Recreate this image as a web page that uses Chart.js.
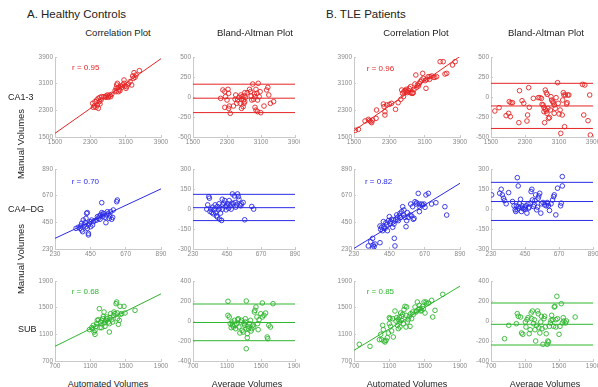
<!DOCTYPE html>
<html>
<head>
<meta charset="utf-8">
<script src="https://cdn.jsdelivr.net/npm/chart.js@4.4.1/dist/chart.umd.min.js"></script>
<style>
  body { margin: 0; background: #fff; }
  #fig { position: relative; width: 598px; height: 387px; overflow: hidden; background: #fff;
         font-family: "Liberation Sans", Arial, sans-serif; }
  .lbl { position: absolute; white-space: nowrap; color: #222; line-height: 1; }
  canvas { position: absolute; }
</style>
</head>
<body>
<div id="fig"></div>
<script>
// tick labels
const ca13Ticks = [1500, 2300, 3100, 3900];
const ca13DiffTicks = [-500, -250, 0, 250, 500];
const ca4Ticks = [230, 450, 670, 890];
const ca4DiffTicks = [-300, -150, 0, 150, 300];
const subTicks = [700, 1100, 1500, 1900];
const subDiffTicks = [-400, -200, 0, 200, 400];

const rValues = ["r = 0.95", "r = 0.96", "r = 0.70", "r = 0.82", "r = 0.68", "r = 0.85"];

// CA1-3, healthy controls: [automated, manual]
const hcCa13Corr = [[2353,2510],[2391,2430],[2429,2390],[2459,2460],[2406,2560],[2444,2610],[2481,2660],[2519,2690],
  [2504,2560],[2542,2610],[2368,2390],[2481,2360],[2519,2490],[2557,2710],[2610,2710],[2655,2730],[2685,2760],
  [2716,2730],[2746,2760],[2784,2780],[2655,2690],[2708,2690],[2761,2710],[2859,2890],[2882,2960],[2897,3060],
  [2912,3110],[2935,2990],[2957,2930],[2972,2890],[2987,3030],[3010,2990],[3033,3060],[3063,3110],[3086,3030],
  [3108,2960],[2882,2860],[2935,2860],[3123,3010],[3161,3090],[3199,3160],[3237,3060],[3063,3210],[3274,3260],
  [3312,3290],[3335,3360],[3259,3330],[3289,3430],[3410,3490]];
const hcCa13Fit = [[1500,1610],[3900,3850]];
// [average, difference]
const hcCa13Ba = [[2149,-17],[2202,88],[2247,67],[2263,4],[2300,-38],[2323,96],[2338,46],[2353,-113],[2247,-129],
  [2338,-142],[2376,-204],[2451,-113],[2489,-29],[2504,25],[2527,-79],[2549,-38],[2580,-4],[2610,-79],[2640,-29],
  [2625,25],[2655,4],[2685,-38],[2700,13],[2716,54],[2700,-79],[2678,-121],[2640,-142],[2716,-58],[2731,-4],
  [2776,54],[2829,96],[2852,67],[2867,13],[2882,-38],[2904,162],[2927,-29],[2942,38],[2957,4],[2980,96],[3002,46],
  [2957,-129],[2980,-163],[3018,-38],[3033,171],[3055,4],[3078,67],[3093,-196],[3018,-183],[3169,-113],[3229,88],
  [3259,121],[3282,25],[3320,-79],[3395,-58]];
const hcCa13Limits = [160, -15, -195];

// CA1-3, TLE patients
const tleCa13Corr = [[1530,1700],[1600,1730],[1750,1980],[1825,2030],[1850,1990],[1880,1960],[1900,1930],[1920,2010],
  [2000,2060],[2010,2310],[2165,2490],[2180,2410],[2200,2260],[2200,2160],[2240,2460],[2300,2480],[2350,2510],
  [2440,2330],[2500,2530],[2560,2630],[2580,2910],[2600,2810],[2620,2710],[2630,2860],[2655,2890],[2680,2930],
  [2690,2860],[2710,2830],[2730,2890],[2750,2960],[2770,2830],[2780,3010],[2810,2810],[2830,2810],[2840,2830],
  [2860,2930],[2880,3090],[2900,3360],[2920,2990],[2935,3060],[2960,3030],[2980,3110],[3000,3160],[3030,3210],
  [3055,3410],[3070,3260],[3110,3190],[3130,2960],[3145,3230],[3180,3310],[3210,3230],[3220,3310],[3260,3330],
  [3300,3290],[3330,3290],[3370,3310],[3450,3760],[3520,3760],[3560,3390],[3600,3410],[3730,3660],[3790,3760]];
const tleCa13Fit = [[1500,1690],[3900,3920]];
const tleCa13Ba = [[1590,-175],[1690,-133],[1855,-233],[1915,-204],[1930,-58],[1970,-71],[2005,-71],[1955,-246],
  [2155,-321],[2170,79],[2230,-46],[2270,-79],[2345,-300],[2385,117],[2400,-129],[2360,-225],[2495,-17],[2610,-8],
  [2650,-8],[2685,-17],[2700,-92],[2725,-100],[2745,-129],[2745,-183],[2760,-321],[2775,87],[2800,54],[2820,33],
  [2775,-154],[2800,-175],[2815,-204],[2835,-142],[2850,-267],[2875,-258],[2895,-162],[2910,4],[2925,-38],
  [2950,-58],[2965,-71],[2985,-100],[2985,-204],[3010,-142],[3030,-8],[3065,179],[3080,-79],[3100,-212],
  [3125,-162],[3140,-454],[3175,-225],[3185,-38],[3200,54],[3215,25],[3230,-371],[3250,25],[3275,-88],[3290,-71],
  [3305,25],[3330,25],[3650,158],[3705,150],[3780,-296],[3820,25],[3680,-225],[3835,-475]];
const tleCa13Limits = [171, -112, -393];

// CA4-DG, healthy controls
const hcCa4Corr = [[361,400],[375,409],[386,400],[390,420],[396,387],[402,373],[396,442],[406,469],[411,428],
  [417,447],[423,483],[427,524],[431,530],[423,414],[431,400],[438,428],[438,359],[438,346],[444,442],[448,456],
  [452,414],[458,469],[464,428],[469,456],[479,464],[489,469],[494,497],[500,483],[506,502],[510,475],[514,511],
  [521,530],[527,497],[521,612],[527,511],[531,524],[541,491],[547,447],[552,511],[562,524],[568,483],[572,502],
  [577,538],[583,475],[589,491],[593,552],[614,620],[618,634],[556,538]];
const hcCa4Fit = [[230,318],[890,726]];
const hcCa4Ba = [[319,-1],[325,31],[332,93],[336,81],[340,-19],[346,-1],[352,-26],[357,14],[361,-36],[367,-6],
  [373,31],[377,-26],[381,-51],[388,19],[388,-61],[394,-6],[398,39],[402,6],[402,-76],[408,-31],[415,-86],[419,-1],
  [419,73],[423,31],[429,44],[435,63],[440,19],[444,-6],[450,24],[456,39],[460,6],[464,63],[471,24],[477,-1],
  [481,44],[485,113],[491,39],[498,98],[502,49],[506,14],[512,31],[518,113],[523,93],[527,73],[533,31],[539,24],
  [543,39],[554,49],[564,-81],[610,19],[622,-1]];
const hcCa4Limits = [110, 10, -87];

// CA4-DG, TLE patients
const tleCa4Corr = [[319,255],[334,290],[346,318],[350,263],[355,249],[346,236],[361,271],[392,282],[392,420],
  [396,392],[402,409],[408,381],[413,456],[417,414],[423,400],[429,447],[433,428],[438,381],[444,464],[450,497],
  [454,442],[458,456],[464,475],[471,409],[475,469],[479,436],[481,318],[485,255],[491,475],[496,511],[500,491],
  [506,464],[512,502],[516,524],[521,491],[527,538],[533,579],[537,511],[541,552],[547,491],[554,414],[558,464],
  [562,530],[568,491],[579,511],[583,601],[589,502],[595,579],[599,475],[604,483],[610,620],[616,601],[620,612],
  [630,689],[637,601],[641,574],[651,601],[657,593],[666,601],[672,574],[678,676],[693,689],[713,601],[740,612],
  [796,579],[807,510],[637,538]];
const tleCa4Fit = [[230,235],[890,772]];
const tleCa4Ba = [[234,106],[286,118],[296,148],[303,106],[311,81],[317,63],[328,39],[344,123],[369,56],[379,24],
  [386,-6],[390,-19],[394,24],[400,-6],[406,19],[411,6],[415,39],[421,73],[427,-19],[431,24],[435,6],[442,-1],
  [448,14],[452,-1],[456,24],[462,-31],[469,39],[473,6],[477,14],[483,44],[489,131],[494,148],[498,68],[504,19],
  [510,31],[514,63],[518,106],[525,-6],[531,14],[535,81],[539,98],[545,118],[552,-31],[556,39],[566,49],[577,31],
  [587,24],[593,49],[597,39],[601,24],[608,-11],[618,39],[628,68],[635,93],[639,106],[649,-44],[660,156],[680,24],
  [684,44],[691,173],[691,243],[400,235],[406,173]];
const tleCa4Limits = [200, 56, -86];

// SUB, healthy controls
const hcSubCorr = [[1089,1170],[1115,1200],[1126,1185],[1134,1235],[1142,1135],[1153,1100],[1153,1160],[1164,1220],
  [1172,1260],[1179,1310],[1191,1320],[1202,1485],[1209,1200],[1217,1285],[1228,1310],[1228,1200],[1240,1335],
  [1247,1370],[1255,1435],[1255,1270],[1266,1285],[1266,1220],[1277,1310],[1285,1360],[1293,1335],[1304,1285],
  [1315,1260],[1315,1135],[1323,1350],[1330,1410],[1342,1320],[1353,1285],[1360,1385],[1368,1435],[1379,1410],
  [1391,1560],[1398,1585],[1406,1335],[1406,1420],[1417,1250],[1428,1310],[1436,1520],[1443,1400],[1455,1410],
  [1481,1520],[1493,1420],[1606,1460]];
const hcSubFit = [[700,920],[1900,1707]];
const hcSubBa = [[1111,57],[1126,40],[1138,-27],[1149,-67],[1157,-10],[1164,-43],[1176,-60],[1187,7],[1194,-43],
  [1202,-77],[1213,-27],[1225,13],[1232,23],[1240,-60],[1251,-120],[1262,-10],[1270,7],[1277,-93],[1289,-110],
  [1300,-27],[1308,-43],[1315,-10],[1326,-77],[1315,23],[1326,200],[1338,-127],[1345,-53],[1353,-77],[1364,-27],
  [1375,7],[1383,-100],[1391,-77],[1402,-43],[1413,-60],[1421,90],[1428,107],[1440,140],[1451,40],[1459,-27],
  [1466,-87],[1477,13],[1496,73],[1515,40],[1534,57],[1553,80],[1572,-160],[1579,-177],[1591,-43],[1610,-60],
  [1515,180],[1326,-277],[1338,-167],[1111,197],[1640,173]];
const hcSubLimits = [170, -15, -197];

// SUB, TLE patients
const tleSubCorr = [[760,950],[881,920],[987,1020],[1002,1100],[1013,1020],[1025,1235],[1032,1170],[1040,1000],
  [1051,985],[1062,1010],[1077,1050],[1089,1120],[1100,1350],[1108,1335],[1115,1220],[1126,1150],[1138,1335],
  [1145,1060],[1164,1450],[1176,1300],[1183,1350],[1191,1235],[1202,1320],[1202,1185],[1213,1360],[1221,1285],
  [1221,1210],[1228,1420],[1240,1310],[1240,1370],[1251,1400],[1259,1260],[1266,1470],[1277,1520],[1289,1385],
  [1289,1210],[1296,1510],[1304,1285],[1315,1320],[1326,1370],[1334,1220],[1342,1410],[1353,1335],[1364,1435],
  [1372,1400],[1391,1510],[1402,1435],[1409,1450],[1417,1585],[1428,1470],[1440,1535],[1447,1485],[1455,1450],
  [1466,1460],[1477,1520],[1485,1485],[1493,1585],[1504,1420],[1515,1585],[1523,1560],[1542,1570],[1579,1610],
  [1591,1360],[1617,1460],[1704,1700],[1100,1260]];
const tleSubFit = [[700,860],[1900,1824]];
const tleSubBa = [[859,-177],[908,-43],[998,-27],[1009,73],[1021,47],[1047,40],[1059,-120],[1074,-133],[1104,-10],
  [1111,-60],[1123,13],[1134,33],[1149,-127],[1160,-87],[1172,80],[1179,23],[1187,100],[1198,-27],[1209,13],
  [1217,-87],[1225,-200],[1236,-43],[1247,100],[1255,73],[1262,-67],[1274,-120],[1285,-10],[1293,47],[1300,-77],
  [1311,-233],[1323,23],[1330,47],[1338,-60],[1349,-127],[1360,-233],[1368,-200],[1376,-210],[1387,-53],[1398,-20],
  [1406,7],[1413,57],[1425,13],[1436,-53],[1443,140],[1451,147],[1462,13],[1462,-60],[1474,247],[1481,23],
  [1500,-133],[1511,-53],[1526,173],[1538,-20],[1549,33],[1557,0],[1575,-20],[1587,0],[1689,40]];
const tleSubLimits = [180, -33, -240];

const RED = "#e52424";
const BLUE = "#2a2ae6";
const GREEN = "#2eb62e";
const FONT = "'Liberation Sans', Arial, sans-serif";

// plot-area edges in the figure
const colLeft = [55, 193, 354, 491];
const colRight = [161, 299, 460, 597];
const rowTop = [57, 169, 281];
const rowBottom = [137, 249, 361];
const clipRight = [169, 300, 468, 598];

const fig = document.getElementById("fig");

function addText(text, x, y, size, opts) {
  opts = opts || {};
  const d = document.createElement("div");
  d.className = "lbl";
  d.textContent = text;
  d.style.fontSize = size + "px";
  d.style.left = x + "px";
  d.style.top = y + "px";
  let tf = opts.left ? "translate(0,-50%)" : "translate(-50%,-50%)";
  if (opts.rotate) tf += " rotate(-90deg)";
  d.style.transform = tf;
  fig.appendChild(d);
}

const rLabelPlugin = {
  id: "rLabel",
  afterDatasetsDraw(chart, args, opts) {
    if (!opts.text) return;
    const ctx = chart.ctx;
    ctx.save();
    ctx.font = "8px " + FONT;
    ctx.fillStyle = opts.color;
    ctx.textAlign = "left";
    ctx.textBaseline = "middle";
    ctx.fillText(opts.text, chart.scales.x.getPixelForValue(opts.at[0]), chart.scales.y.getPixelForValue(opts.at[1]));
    ctx.restore();
  }
};

function axis(ticks, horizontal) {
  return {
    type: "linear",
    min: ticks[0],
    max: ticks[ticks.length - 1],
    afterBuildTicks: function (s) { s.ticks = ticks.map(function (v) { return { value: v }; }); },
    afterFit: function (s) {
      if (horizontal) { s.height = 10; s.paddingLeft = 0; s.paddingRight = 0; }
      else { s.width = 32; s.paddingTop = 0; s.paddingBottom = 0; }
    },
    // short tick marks pointing into the plot, like the original
    grid: { display: true, drawOnChartArea: false, drawTicks: true, tickLength: -2, color: "#c9c9c9", lineWidth: 1 },
    border: { color: "#c9c9c9", width: 1 },
    ticks: {
      font: { size: 6.5, family: FONT },
      color: "#8a8a8a",
      padding: horizontal ? 3 : 4,
      maxRotation: 0,
      autoSkip: false,
      callback: function (v) { return String(v); }
    }
  };
}

function makePanel(col, row, points, fitLine, limits, xTicks, yTicks, color, rLabel) {
  const L = colLeft[col], R = colRight[col], T = rowTop[row], B = rowBottom[row];
  const padR = clipRight[col] - R;
  const c = document.createElement("canvas");
  const w = (R - L) + 32 + padR, h = (B - T) + 16;
  c.width = w; c.height = h;
  c.style.left = (L - 32) + "px";
  c.style.top = (T - 6) + "px";
  c.style.width = w + "px"; c.style.height = h + "px";
  fig.appendChild(c);

  const datasets = [];
  if (fitLine) {
    datasets.push({ type: "line", data: fitLine.map(function (p) { return { x: p[0], y: p[1] }; }),
      borderColor: color, borderWidth: 1, pointRadius: 0, fill: false });
  }
  if (limits) {
    limits.forEach(function (v) {
      datasets.push({ type: "line", data: [{ x: xTicks[0], y: v }, { x: xTicks[xTicks.length - 1], y: v }],
        borderColor: color, borderWidth: 1, pointRadius: 0, fill: false });
    });
  }
  datasets.push({
    type: "scatter",
    data: points.map(function (p) { return { x: p[0], y: p[1] }; }),
    pointRadius: 2.3,
    pointBorderWidth: 0.9,
    pointBorderColor: color,
    pointBackgroundColor: "rgba(0,0,0,0)"
  });

  new Chart(c, {
    data: { datasets: datasets },
    options: {
      responsive: false,
      animation: false,
      devicePixelRatio: 1,
      layout: { padding: { left: 0, top: 6, right: padR, bottom: 0 } },
      plugins: {
        legend: { display: false },
        tooltip: { enabled: false },
        rLabel: rLabel ? { text: rLabel.text, at: rLabel.at, color: color } : {}
      },
      scales: { x: axis(xTicks, true), y: axis(yTicks, false) }
    },
    plugins: [rLabelPlugin]
  });
}

// row 1: CA1-3
makePanel(0, 0, hcCa13Corr, hcCa13Fit, null, ca13Ticks, ca13Ticks, RED, { text: rValues[0], at: [1885, 3570] });
makePanel(1, 0, hcCa13Ba, null, hcCa13Limits, ca13Ticks, ca13DiffTicks, RED);
makePanel(2, 0, tleCa13Corr, tleCa13Fit, null, ca13Ticks, ca13Ticks, RED, { text: rValues[1], at: [1790, 3560] });
makePanel(3, 0, tleCa13Ba, null, tleCa13Limits, ca13Ticks, ca13DiffTicks, RED);
// row 2: CA4-DG
makePanel(0, 1, hcCa4Corr, hcCa4Fit, null, ca4Ticks, ca4Ticks, BLUE, { text: rValues[2], at: [334, 785] });
makePanel(1, 1, hcCa4Ba, null, hcCa4Limits, ca4Ticks, ca4DiffTicks, BLUE);
makePanel(2, 1, tleCa4Corr, tleCa4Fit, null, ca4Ticks, ca4Ticks, BLUE, { text: rValues[3], at: [298, 785] });
makePanel(3, 1, tleCa4Ba, null, tleCa4Limits, ca4Ticks, ca4DiffTicks, BLUE);
// row 3: SUB
makePanel(0, 2, hcSubCorr, hcSubFit, null, subTicks, subTicks, GREEN, { text: rValues[4], at: [889, 1735] });
makePanel(1, 2, hcSubBa, null, hcSubLimits, subTicks, subDiffTicks, GREEN);
makePanel(2, 2, tleSubCorr, tleSubFit, null, subTicks, subTicks, GREEN, { text: rValues[5], at: [844, 1735] });
makePanel(3, 2, tleSubBa, null, tleSubLimits, subTicks, subDiffTicks, GREEN);

// headings and axis text
addText("A. Healthy Controls", 27, 15, 11.5, { left: true });
addText("B. TLE Patients", 326, 15, 11.5, { left: true });
addText("Correlation Plot", 118, 33, 9.5);
addText("Bland-Altman Plot", 255, 33, 9.5);
addText("Correlation Plot", 416, 33, 9.5);
addText("Bland-Altman Plot", 546, 33, 9.5);
addText("CA1-3", 8, 97, 9, { left: true });
addText("CA4\u2013DG", 8, 209, 9, { left: true });
addText("SUB", 18, 329, 9, { left: true });
addText("Manual Volumes", 21, 144, 9.5, { rotate: true });
addText("Manual Volumes", 21, 259, 9.5, { rotate: true });
addText("Automated Volumes", 108, 384, 9);
addText("Average Volumes", 247, 384, 9);
addText("Automated Volumes", 407, 384, 9);
addText("Average Volumes", 545, 384, 9);
</script>
</body>
</html>
